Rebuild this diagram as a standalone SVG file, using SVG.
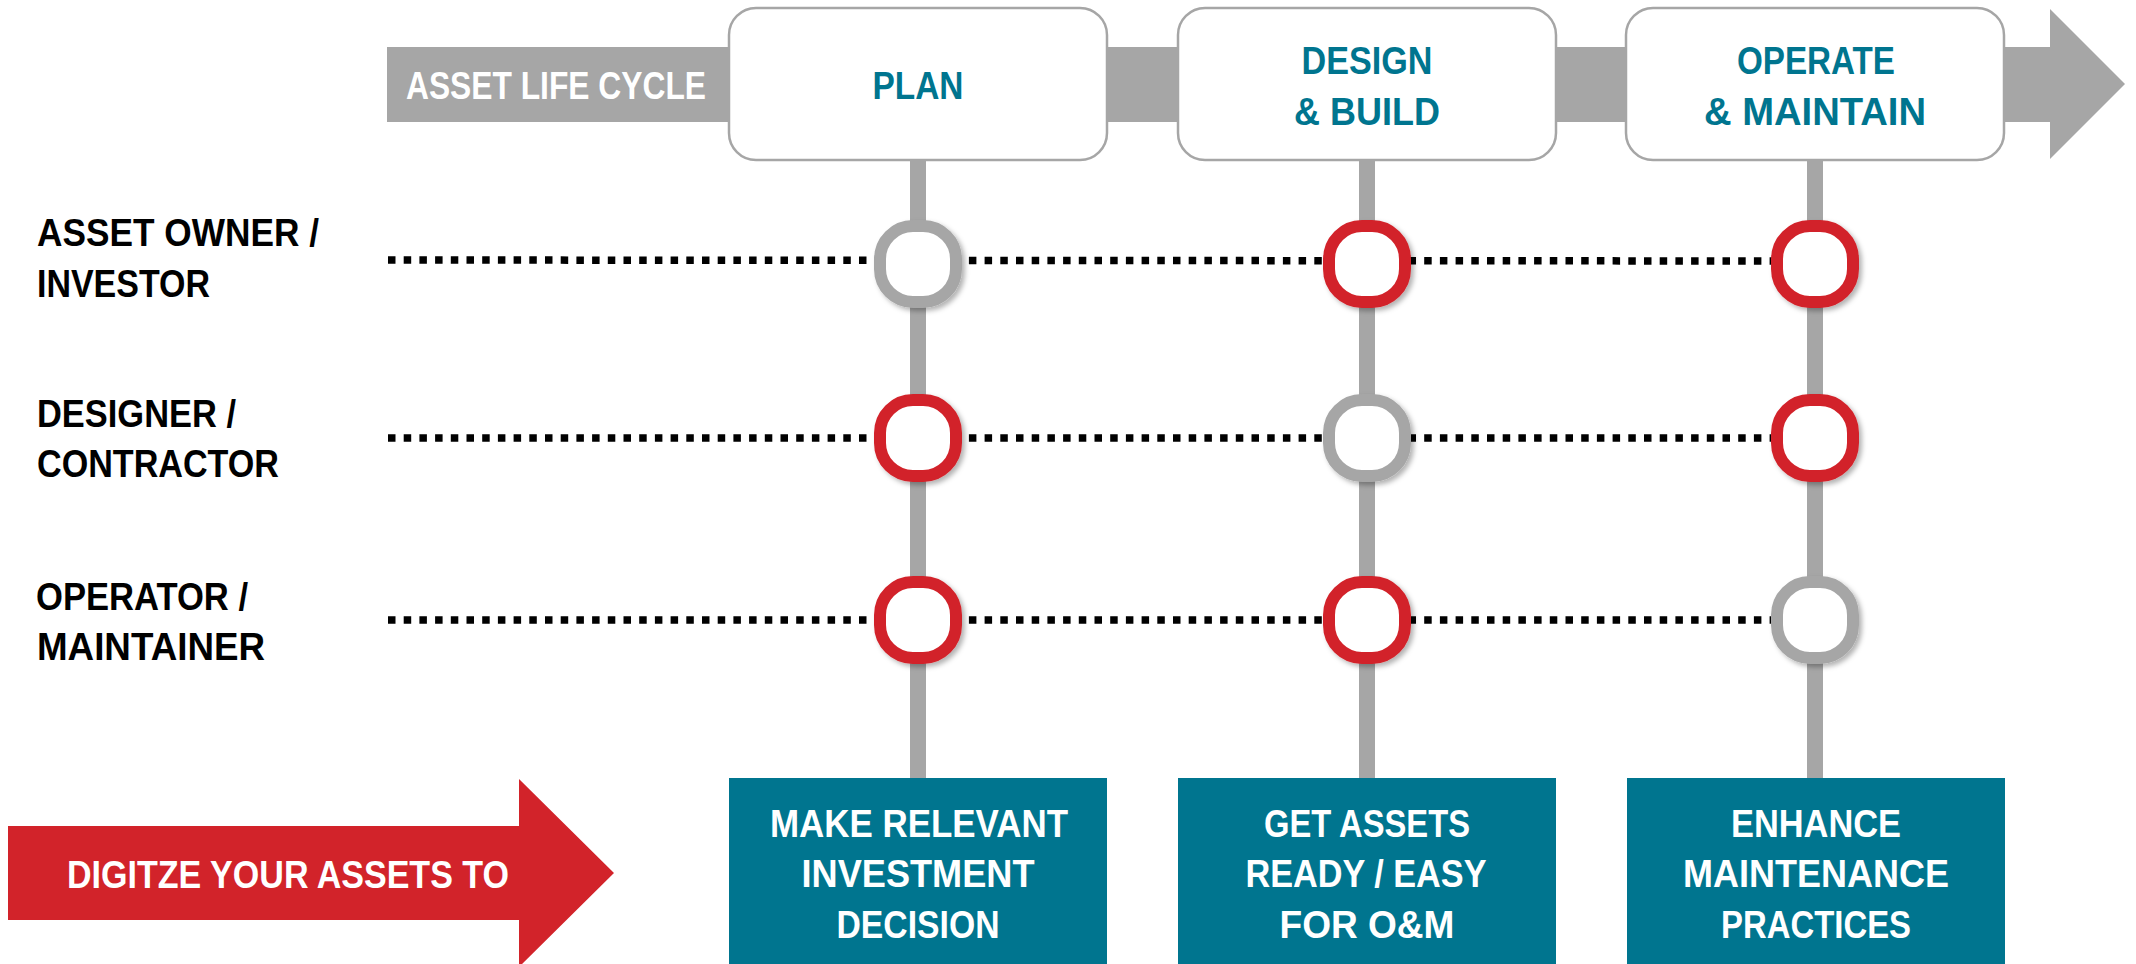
<svg xmlns="http://www.w3.org/2000/svg" width="2136" height="964" viewBox="0 0 2136 964">
<defs>
<style>
text{font-family:"Liberation Sans",Arial,sans-serif;font-weight:bold;font-size:39px}
.phase{fill:#ffffff;stroke:#A6A6A6;stroke-width:2.5}
.ph{fill:#00758F;text-anchor:middle}
.lbl{fill:#000000}
.wt{fill:#ffffff}
.mid{text-anchor:middle}
.goal{fill:#00758F}
.vline{stroke:#A6A6A6;stroke-width:16;fill:none}
.dot{stroke:#000000;stroke-width:7.5;stroke-dasharray:7.5 8.2;fill:none}
.red{fill:#ffffff;stroke:#D2232A;stroke-width:12;filter:url(#sh)}
.gray{fill:#ffffff;stroke:#A6A6A6;stroke-width:12;filter:url(#sh)}
</style>
<filter id="sh" x="-30%" y="-30%" width="160%" height="160%">
<feDropShadow dx="3" dy="3" stdDeviation="2.5" flood-color="#000" flood-opacity="0.3"/>
</filter>
</defs>
<rect width="2136" height="964" fill="#ffffff"/>

<g id="lifecycle-arrow">
<polygon points="387,47 2050,47 2050,9 2125,84 2050,159 2050,122 387,122" fill="#A6A6A6"/>
<text class="wt" x="406" y="99" textLength="300" lengthAdjust="spacingAndGlyphs">ASSET LIFE CYCLE</text>
</g>

<g id="connectors">
<line class="vline" x1="918" y1="160" x2="918" y2="778"/>
<line class="vline" x1="1367" y1="160" x2="1367" y2="778"/>
<line class="vline" x1="1815" y1="160" x2="1815" y2="778"/>
<line class="dot" x1="388" y1="260" x2="1790" y2="261"/>
<line class="dot" x1="388" y1="438" x2="1790" y2="438"/>
<line class="dot" x1="388" y1="620" x2="1790" y2="620"/>
</g>

<g id="phase-plan">
<rect class="phase" x="729" y="8" width="378" height="152" rx="27"/>
<text class="ph" x="918" y="99" textLength="91" lengthAdjust="spacingAndGlyphs">PLAN</text>
</g>
<g id="phase-design">
<rect class="phase" x="1178" y="8" width="378" height="152" rx="27"/>
<text class="ph" x="1367" y="74" textLength="131" lengthAdjust="spacingAndGlyphs">DESIGN</text>
<text class="ph" x="1367" y="125" textLength="146" lengthAdjust="spacingAndGlyphs">&amp; BUILD</text>
</g>
<g id="phase-operate">
<rect class="phase" x="1626" y="8" width="378" height="152" rx="27"/>
<text class="ph" x="1816" y="74" textLength="158" lengthAdjust="spacingAndGlyphs">OPERATE</text>
<text class="ph" x="1815" y="125" textLength="222" lengthAdjust="spacingAndGlyphs">&amp; MAINTAIN</text>
</g>

<g id="role-owner">
<text class="lbl" x="37" y="246" textLength="282" lengthAdjust="spacingAndGlyphs">ASSET OWNER /</text>
<text class="lbl" x="37" y="297" textLength="173" lengthAdjust="spacingAndGlyphs">INVESTOR</text>
</g>
<g id="role-designer">
<text class="lbl" x="37" y="427" textLength="199" lengthAdjust="spacingAndGlyphs">DESIGNER /</text>
<text class="lbl" x="37" y="477" textLength="242" lengthAdjust="spacingAndGlyphs">CONTRACTOR</text>
</g>
<g id="role-operator">
<text class="lbl" x="36" y="610" textLength="212" lengthAdjust="spacingAndGlyphs">OPERATOR /</text>
<text class="lbl" x="37" y="660" textLength="228" lengthAdjust="spacingAndGlyphs">MAINTAINER</text>
</g>

<g id="node-owner-plan"><rect class="gray" x="880" y="226" width="76" height="76" rx="33"/></g>
<g id="node-owner-design"><rect class="red" x="1329" y="226" width="76" height="76" rx="33"/></g>
<g id="node-owner-operate"><rect class="red" x="1777" y="226" width="76" height="76" rx="33"/></g>
<g id="node-designer-plan"><rect class="red" x="880" y="400" width="76" height="76" rx="33"/></g>
<g id="node-designer-design"><rect class="gray" x="1329" y="400" width="76" height="76" rx="33"/></g>
<g id="node-designer-operate"><rect class="red" x="1777" y="400" width="76" height="76" rx="33"/></g>
<g id="node-operator-plan"><rect class="red" x="880" y="582" width="76" height="76" rx="33"/></g>
<g id="node-operator-design"><rect class="red" x="1329" y="582" width="76" height="76" rx="33"/></g>
<g id="node-operator-operate"><rect class="gray" x="1777" y="582" width="76" height="76" rx="33"/></g>

<g id="digitize-arrow">
<polygon points="8,826 519,826 519,779 614,873 519,967 519,920 8,920" fill="#D2232A"/>
<text class="wt" x="67" y="888" textLength="442" lengthAdjust="spacingAndGlyphs">DIGITZE YOUR ASSETS TO</text>
</g>

<g id="goal-plan">
<rect class="goal" x="729" y="778" width="378" height="200"/>
<text class="wt mid" x="919" y="837" textLength="298" lengthAdjust="spacingAndGlyphs">MAKE RELEVANT</text>
<text class="wt mid" x="918" y="887" textLength="233" lengthAdjust="spacingAndGlyphs">INVESTMENT</text>
<text class="wt mid" x="918" y="938" textLength="163" lengthAdjust="spacingAndGlyphs">DECISION</text>
</g>
<g id="goal-design">
<rect class="goal" x="1178" y="778" width="378" height="200"/>
<text class="wt mid" x="1367" y="837" textLength="206" lengthAdjust="spacingAndGlyphs">GET ASSETS</text>
<text class="wt mid" x="1366" y="887" textLength="241" lengthAdjust="spacingAndGlyphs">READY / EASY</text>
<text class="wt mid" x="1367" y="938" textLength="175" lengthAdjust="spacingAndGlyphs">FOR O&amp;M</text>
</g>
<g id="goal-operate">
<rect class="goal" x="1627" y="778" width="378" height="200"/>
<text class="wt mid" x="1816" y="837" textLength="170" lengthAdjust="spacingAndGlyphs">ENHANCE</text>
<text class="wt mid" x="1816" y="887" textLength="266" lengthAdjust="spacingAndGlyphs">MAINTENANCE</text>
<text class="wt mid" x="1816" y="938" textLength="190" lengthAdjust="spacingAndGlyphs">PRACTICES</text>
</g>
</svg>
